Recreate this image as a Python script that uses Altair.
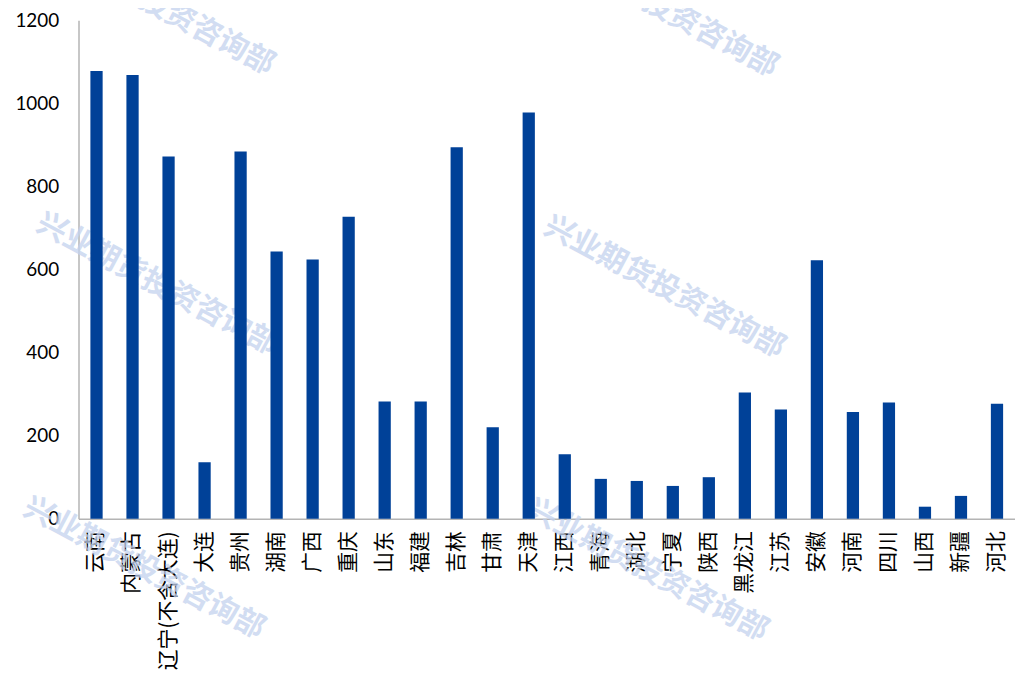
import altair as alt
import pandas as pd

categories = ["云南", "内蒙古", "辽宁(不含大连)", "大连", "贵州", "湖南", "广西", "重庆", "山东", "福建",
              "吉林", "甘肃", "天津", "江西", "青海", "湖北", "宁夏", "陕西", "黑龙江", "江苏",
              "安徽", "河南", "四川", "山西", "新疆", "河北"]
values = [1078, 1068, 872, 136, 884, 643, 624, 727, 282, 282,
          894, 220, 978, 155, 96, 91, 79, 100, 304, 263,
          622, 257, 280, 29, 55, 277]

y_ticks = [0, 200, 400, 600, 800, 1000, 1200]

# watermark (decoration) positions in pixels relative to the plot area
wm_text = "兴业期货投资咨询部"
wm_px = [76, 583, 79, 590, 66, 573]
wm_py = [-16, -14, 266, 269, 552, 554]

df = pd.DataFrame({"region": categories, "value": values})
wm = pd.DataFrame({"px": wm_px, "py": wm_py, "t": [wm_text] * len(wm_px)})

watermark = alt.Chart(wm).mark_text(
    angle=28, font="Noto Sans CJK SC", fontWeight="bold", fontSize=30,
    color="#c3d2ee", opacity=0.75, align="center", baseline="middle"
).encode(
    x=alt.X("px:Q", scale=None, axis=None),
    y=alt.Y("py:Q", scale=None, axis=None),
    text="t:N",
)

bars = alt.Chart(df).mark_bar(color="#004198").encode(
    x=alt.X("region:N", sort=categories, title=None,
            scale=alt.Scale(paddingInner=0.66, paddingOuter=0.33),
            axis=alt.Axis(labelAngle=-90, labelFont="Noto Sans CJK SC", labelFontSize=21,
                          labelColor="#000000", labelPadding=12, ticks=False,
                          domainColor="#b4b4b4", domainWidth=1.5, labelLimit=300)),
    y=alt.Y("value:Q", title=None,
            scale=alt.Scale(domain=[0, 1200], nice=False),
            axis=alt.Axis(values=y_ticks, format="d", grid=False, ticks=False, labelFont="Lato",
                          labelFontSize=19, labelColor="#000000", labelPadding=20,
                          domainColor="#b4b4b4", domainWidth=1.5)),
)

chart = alt.layer(watermark, bars).properties(
    width=943, height=502,
    autosize=alt.AutoSizeParams(type="none"),
    padding={"left": 71, "top": 10, "right": 0, "bottom": 150},
).configure_view(stroke=None)

chart.save("out.html", embed_options={"renderer": "svg", "actions": False})
